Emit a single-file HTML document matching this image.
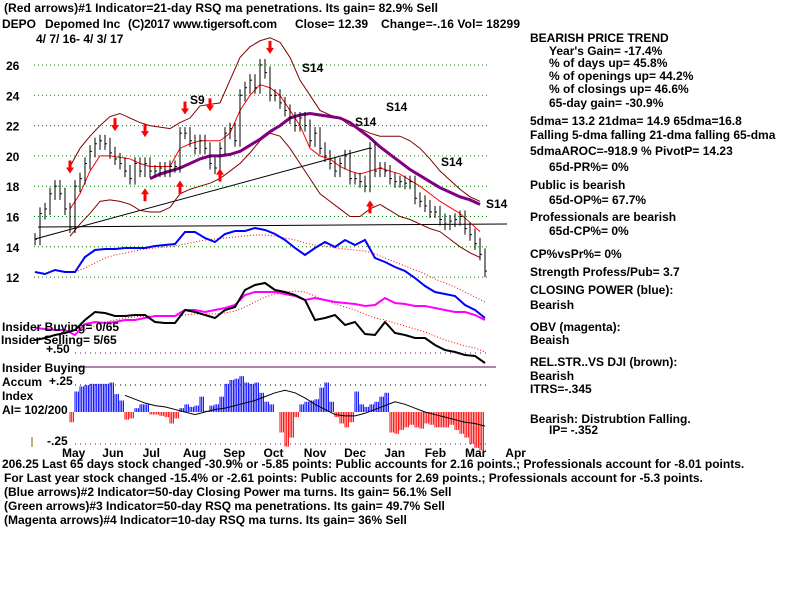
<!DOCTYPE html>
<html><head><meta charset="utf-8"><style>
html,body{margin:0;padding:0;background:#fff;width:800px;height:600px;overflow:hidden}
svg{display:block}
text{font-family:"Liberation Sans",Arial,sans-serif;font-weight:bold;font-size:12px;fill:#000}
</style></head><body>
<svg id="chart" width="800" height="600" xmlns="http://www.w3.org/2000/svg">
<g id="grid"></g>
<g id="marks"></g>
<g id="labels"></g>
<g>
<text x="4" y="12" textLength="434" font-size="13">(Red arrows)#1 Indicator=21-day RSQ ma penetrations. Its gain= 82.9% Sell</text>
<text x="2" y="28" font-size="13">DEPO</text>
<text x="45" y="28" font-size="13">Depomed Inc</text>
<text x="128" y="28" font-size="13" textLength="149">(C)2017 www.tigersoft.com</text>
<text x="295" y="28" font-size="13">Close=  12.39</text>
<text x="381" y="28" font-size="13" textLength="139">Change=-.16 Vol= 18299</text>
<text x="36" y="43" font-size="13">4/ 7/ 16- 4/ 3/ 17</text>
</g>
<g>
<text x="530" y="42">BEARISH PRICE TREND</text>
<text x="549" y="55">Year's Gain= -17.4%</text>
<text x="549" y="67">% of days up= 45.8%</text>
<text x="549" y="80">% of openings up= 44.2%</text>
<text x="549" y="93">% of closings up= 46.6%</text>
<text x="549" y="107">65-day gain= -30.9%</text>
<text x="530" y="125">5dma= 13.2 21dma= 14.9 65dma=16.8</text>
<text x="530" y="139">Falling 5-dma  falling 21-dma  falling 65-dma</text>
<text x="530" y="155">5dmaAROC=-918.9 %  PivotP= 14.23</text>
<text x="549" y="171">65d-PR%= 0%</text>
<text x="530" y="189">Public is bearish</text>
<text x="549" y="204">65d-OP%= 67.7%</text>
<text x="530" y="221">Professionals are bearish</text>
<text x="549" y="235">65d-CP%= 0%</text>
<text x="530" y="258">CP%vsPr%=  0%</text>
<text x="530" y="276">Strength Profess/Pub= 3.7</text>
<text x="530" y="294">CLOSING POWER (blue):</text>
<text x="530" y="309">Bearish</text>
<text x="530" y="331">OBV (magenta):</text>
<text x="530" y="344">Beaish</text>
<text x="530" y="366">REL.STR..VS DJI (brown):</text>
<text x="530" y="380">Bearish</text>
<text x="530" y="393">ITRS=-.345</text>
<text x="530" y="423">Bearish: Distrubtion Falling.</text>
<text x="549" y="434">IP= -.352</text>
</g>
<g>
<text x="2" y="468">206.25 Last 65 days stock changed -30.9% or -5.85 points:  Public accounts for  2.16 points.;  Professionals account for -8.01 points.</text>
<text x="4" y="482">For Last year stock changed -15.4% or -2.61 points:  Public accounts for  2.69 points.;  Professionals account for -5.3 points.</text>
<text x="4" y="496">(Blue arrows)#2 Indicator=50-day Closing Power ma turns. Its gain= 56.1% Sell</text>
<text x="4" y="510">(Green arrows)#3 Indicator=50-day RSQ ma penetrations. Its gain= 49.7% Sell</text>
<text x="4" y="524">(Magenta arrows)#4 Indicator=10-day RSQ ma turns. Its gain= 36% Sell</text>
</g>
<g>
<text x="2" y="331">Insider Buying=  0/65</text>
<text x="1" y="344">Insider Selling= 5/65</text>
<text x="46" y="353">+.50</text>
<text x="2" y="372">Insider Buying</text>
<text x="2" y="386">Accum</text>
<text x="49" y="385">+.25</text>
<text x="2" y="400">Index</text>
<text x="2" y="414">AI= 102/200</text>
<text x="47" y="445">-.25</text>
</g>
</svg>
<script>
// price data (x step 5 px from first day)
const priceClose=[14.5,16.2,16.5,17.5,18,17.5,16.5,15.3,18,18.5,19.5,20.3,20.8,21,20.8,20.2,19.8,19.5,19,18.5,19.5,19,19.5,19,19,19.2,19,19.3,19.3,21.5,21.5,21,20.5,21,20.5,19.5,19.2,20.5,21.5,21.8,21,24,24.5,25,24.5,26,25.5,24,24,23.5,23,22.5,22,22.5,22,21,21.5,20.5,20,19.5,19,19.5,20,18.5,18.5,18.3,18,20.5,19,19.2,19,18.5,18.3,18.3,18.2,18.3,17.2,17,16.7,16.3,16.3,15.8,15.5,15.7,15.8,16,15.2,14.8,14.2,13.5,12.4];
// bands (step 10 from x70)
const upperBand=[19.3,20.5,21.3,22,22.6,22.8,22.5,22.2,22,21.9,21.8,22.2,22.5,23.3,23.4,23.5,25,26.5,27.2,27.6,27.8,27.5,26.5,25,24,23,22.7,22.5,22,21.8,21.5,21.3,21.3,21.3,21,20.5,19.8,19,18.4,17.8,17.3,17];
const lowerBand=[14.7,15.5,16.2,17,17.1,17,16.8,16.4,16.3,16.3,16.6,17.5,17.8,18,18.2,18.5,19,19.5,20.2,21,21.5,21.3,20.5,19.5,18.5,17.5,17,16.5,16,16,16.5,16.8,16.4,16,15.8,15.5,15.2,15,14.5,14,13.6,13.3];
const redBand=[16.5,17.5,19,20,20,19.9,19.8,19.5,19.3,19.3,19.3,20.5,20.8,21,21,21,21.5,23,24,24.7,24.5,24,23,22,20.5,20,19.8,19.3,19,18.8,19,19.2,19,18.8,18.4,18,17.5,17,16.6,16.2,15.6,15];
// 65-dma (step 10 from x150)
const ma65=[18.5,18.8,19,19.2,19.5,19.8,20,20,20.1,20.3,20.7,21.1,21.6,22,22.5,22.7,22.8,22.7,22.6,22.5,22.2,21.7,21.2,20.6,20.1,19.6,19.1,18.7,18.3,17.9,17.6,17.3,17.1,16.8];
// red arrow signals: day index and price
const sellDays=[7,16,22,30,35,47];
const sellPrices=[19.1,21.9,21.5,23,23.2,27];
const buyDays=[22,29,37,67];
const buyPrices=[17.6,18.1,18.9,16.8];
// closing power, OBV, rel strength (relative units, step 10 from x35)
const closingPower=[128,126,130,128,128,143,150,151,151,152,152,152,154,155,156,168,168,162,158,166,169,169,172,170,166,160,152,145,152,158,153,160,155,160,142,138,133,129,122,114,108,106,104,95,90,82];
const closingPowerMA=[null,null,null,null,128,132,137,142,145,147,149,151,152,153,154,156,158,160,161,162,163,164,165,165,164,162,160,157,155,154,152,151,150,149,146,142,138,134,130,126,121,117,113,108,103,98];
const obv=[72,71,70,70,65,76,78,77,78,80,80,82,84,84,84,90,90,88,90,92,95,105,108,108,108,106,104,100,102,100,98,97,96,94,95,102,97,96,94,94,92,90,88,88,85,80];
const relStr=[60,62,65,67,70,80,88,87,84,84,85,85,78,77,77,90,88,85,82,90,93,110,115,117,110,108,105,100,80,82,85,75,78,66,65,78,67,65,62,62,55,50,48,45,44,37];
const relStrMA=[null,null,null,null,null,70,74,78,80,82,83,84,84,84,84,85,86,86,86,87,89,93,98,103,106,108,109,108,104,100,96,93,90,86,82,80,77,74,71,68,64,60,57,54,52,48];
// accumulation index (hundredths, step 5 from x70)
const accumIdx=[-8,16,20,21,22,22,22,22,23,14,9,-6,-5,3,6,6,-2,-2,-3,-4,-9,-5,3,6,4,5,12,1,5,6,12,22,25,26,28,23,22,23,15,8,6,0,-16,-27,-20,-4,6,8,9,10,19,23,8,-4,-9,-12,-8,16,6,4,6,8,12,15,-16,-17,-14,-12,-10,-12,-13,-9,-10,-12,-12,-12,-10,-14,-17,-20,-25,-28,-30];
// accum index moving average (step 10 from x125)
const accumMA=[13,10,7,5,4,2,0,-2,0,2,3,5,7,9,12,15,17,15,11,6,2,-2,-3,-3,-1,2,5,8,6,3,0,-2,-4,-6,-8,-9,-11];
const monthLabels=["May","Jun","Jul","Aug","Sep","Oct","Nov","Dec","Jan","Feb","Mar","Apr"];
const priceTicks=[26,24,22,20,18,16,14,12];

const NS="http://www.w3.org/2000/svg";
const X0=35;
function px(i,step,start){return (start===undefined?X0:start)+i*step;}
function py(p){return 65+(26-p)*15.15;}
function cy(v){return 400-v;}
function ay(v){return 412-v*1.28;}
function mk(tag,attrs,parent){const e=document.createElementNS(NS,tag);for(const k in attrs)e.setAttribute(k,attrs[k]);parent.appendChild(e);return e;}
const grid=document.getElementById('grid'),marks=document.getElementById('marks'),labels=document.getElementById('labels');

priceTicks.forEach(t=>{
  const l=mk('line',{x1:34,x2:487,y1:py(t),y2:py(t),stroke:'#008000','stroke-dasharray':'1,3'},grid);
  
  
  const tx=mk('text',{x:6,y:py(t)+5,'font-size':'13'},labels);tx.textContent=t;
  
  
});
[[353,'#800080'],[385,'#000'],[444,'#800080']].forEach(([y,c])=>{mk('line',{x1:75,x2:487,y1:y,y2:y,stroke:c,'stroke-dasharray':'1,4'},grid);});
mk('line',{x1:78,x2:496,y1:367,y2:367,stroke:'#600060'},grid);
mk('line',{x1:32,x2:32,y1:437,y2:447,stroke:'#806000'},grid);
monthLabels.forEach((m,i)=>{const t=mk('text',{x:62+i*40.3,y:457},labels);t.textContent=m;
  
  });

function poly(arr,fx,fy,attrs,name){
  const pts=arr.map((v,i)=>v===null?null:fx(i)+','+fy(v)).filter(s=>s).join(' ');
  const p=mk('polyline',Object.assign({points:pts,fill:'none'},attrs),marks);
  
  
}
// trend lines
mk('line',{x1:35,x2:370,y1:239,y2:148,stroke:'#000'},marks);
mk('line',{x1:38,x2:507,y1:227,y2:224,stroke:'#000'},marks);

poly(upperBand,i=>px(i,10,70),py,{stroke:'#800000'},'upper-band');
poly(lowerBand,i=>px(i,10,70),py,{stroke:'#800000'},'lower-band');
poly(redBand,i=>px(i,10,70),py,{stroke:'#ff0000'},'red-band');
poly(ma65,i=>px(i,10,150),py,{stroke:'#800080','stroke-width':3},'ma65-line');
poly(closingPowerMA,i=>px(i,10),cy,{stroke:'#ff0000','stroke-dasharray':'1,2'},'closing-power-ma');
poly(relStrMA,i=>px(i,10),cy,{stroke:'#ff0000','stroke-dasharray':'1,2'},'rel-strength-ma');
poly(closingPower,i=>px(i,10),cy,{stroke:'#0000ff','stroke-width':2},'closing-power-line');
poly(obv,i=>px(i,10),cy,{stroke:'#ff00ff','stroke-width':2},'obv-line');
poly(relStr,i=>px(i,10),cy,{stroke:'#000','stroke-width':2},'rel-strength-line');

priceClose.forEach((c,i)=>{
  const x=px(i,5);
  const prev=i>0?priceClose[i-1]:c;
  const hi=Math.max(c,prev)+0.4,lo=Math.min(c,prev)-0.4;
  const b=mk('line',{x1:x,x2:x,y1:py(hi),y2:py(lo),stroke:'#000'},marks);
  
  
  mk('line',{x1:x,x2:x+2,y1:py(c),y2:py(c),stroke:'#000'},marks);
});
function arrow(x,y,down){
  const d=down?1:-1;
  const p=mk('path',{d:`M${x-1.5},${y-9*d} L${x+1.5},${y-9*d} L${x+1.5},${y-2*d} L${x+4},${y-2*d} L${x},${y+4*d} L${x-4},${y-2*d} L${x-1.5},${y-2*d} Z`,fill:'#ff0000'},marks);
  
  
}
sellDays.forEach((d,i)=>arrow(px(d,5),py(sellPrices[i]),true));
buyDays.forEach((d,i)=>arrow(px(d,5),py(buyPrices[i]),false));
accumIdx.forEach((v,i)=>{
  const x=px(i,5,70);
  for(let k=0;k<3;k++){
    const b=mk('line',{x1:x+k*1.7,x2:x+k*1.7,y1:412,y2:ay(v),stroke:v>=0?'#0000ff':'#ff0000'},marks);
    
    
  }
});
poly(accumMA,i=>px(i,10,125),ay,{stroke:'#000','stroke-width':1},'accum-ma-line');
[['S14',302,72],['S14',355,126],['S14',441,166],['S14',486,208],['S9',190,104],['S14',386,111]].forEach(([s,x,y])=>{
  const t=mk('text',{x:x,y:y,'font-size':'14'},labels);t.textContent=s;
  
  });
</script>
</body></html>
